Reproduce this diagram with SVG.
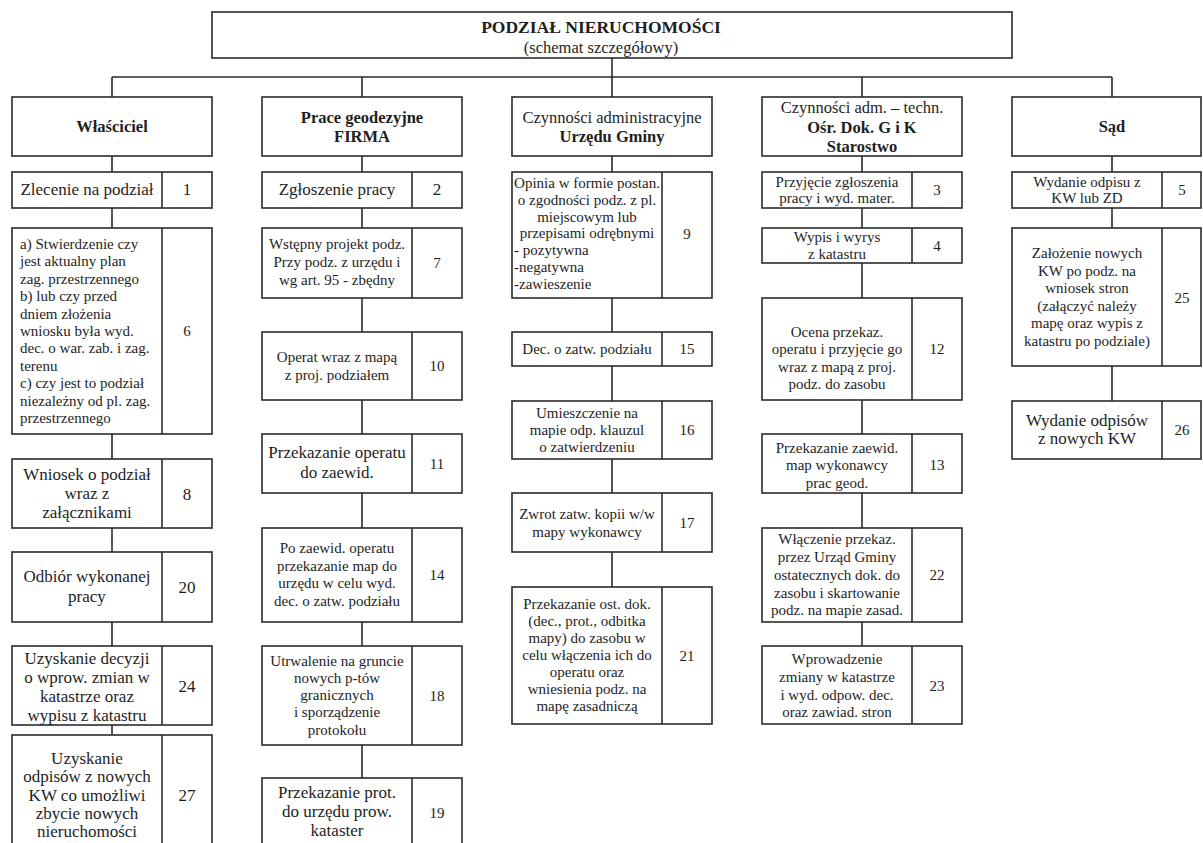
<svg xmlns="http://www.w3.org/2000/svg" width="1203" height="843" viewBox="0 0 1203 843">
<style>
.bg{fill:#ffffff}
.box{fill:#ffffff;stroke:#2b2b2b;stroke-width:1.6}
.div{stroke:#2b2b2b;stroke-width:1.6}
.conn{stroke:#2b2b2b;stroke-width:1.6;fill:none}
text{font-family:"Liberation Serif","Times New Roman",serif;fill:#1e1e1e;text-anchor:middle;font-size:15px}
.b{font-weight:bold;font-size:16.5px}
.h{font-size:16.5px}
.lg{font-size:17px}
.l{text-anchor:start}
.ttl{font-weight:bold;font-size:17.5px}
.sub{font-size:16.5px}
</style>
<rect class="bg" x="0" y="0" width="1203" height="843"/>

<g id="connectors">
<path class="conn" d="M612 58 V77 M112 77 H1112 M112 77 V97 M362 77 V97 M612 77 V97 M862 77 V97 M1112 77 V97"/>
<path class="conn" d="M112 156 V172 M112 208 V228 M112 434 V459 M112 528 V552 M112 622 V646 M112 725 V735"/>
<path class="conn" d="M362 156 V172 M362 208 V228 M362 298 V332 M362 400 V434 M362 493 V528 M362 622 V646 M362 745 V778"/>
<path class="conn" d="M612 156 V172 M612 298 V332 M612 366 V401 M612 459 V493 M612 552 V587"/>
<path class="conn" d="M862 156 V172 M862 208 V228 M862 263 V298 M862 400 V434 M862 493 V528 M862 622 V646"/>
<path class="conn" d="M1112 156 V172 M1112 208 V228 M1112 366 V401"/>
</g>

<g id="title">
<rect class="box" x="212" y="12" width="800" height="46"/>
<text class="ttl" x="601" y="33">PODZIAŁ NIERUCHOMOŚCI</text>
<text class="sub" x="601" y="53">(schemat szczegółowy)</text>
</g>

<!-- Column 1 -->
<g id="h-wlasciciel">
<rect class="box" x="12" y="97" width="200" height="59"/>
<text class="b" x="112" y="132">Właściciel</text>
</g>
<g id="n1">
<rect class="box" x="12" y="172" width="200" height="36"/>
<line class="div" x1="162" y1="172" x2="162" y2="208"/>
<text class="lg" x="87" y="195">Zlecenie na podział</text>
<text class="lg" x="187" y="195">1</text>
</g>
<g id="n6">
<rect class="box" x="12" y="228" width="200" height="206"/>
<line class="div" x1="162" y1="228" x2="162" y2="434"/>
<text class="l" x="20" y="249">a) Stwierdzenie czy</text>
<text class="l" x="20" y="266.4">jest aktualny plan</text>
<text class="l" x="20" y="283.8">zag. przestrzennego</text>
<text class="l" x="20" y="301.2">b) lub czy przed</text>
<text class="l" x="20" y="318.6">dniem złożenia</text>
<text class="l" x="20" y="336">wniosku była wyd.</text>
<text class="l" x="20" y="353.4">dec. o war. zab. i zag.</text>
<text class="l" x="20" y="370.8">terenu</text>
<text class="l" x="20" y="388.2">c) czy jest to podział</text>
<text class="l" x="20" y="405.6">niezależny od pl. zag.</text>
<text class="l" x="20" y="423">przestrzennego</text>
<text x="187" y="336">6</text>
</g>
<g id="n8">
<rect class="box" x="12" y="459" width="200" height="69"/>
<line class="div" x1="162" y1="459" x2="162" y2="528"/>
<text class="lg" x="87" y="480">Wniosek o podział</text>
<text class="lg" x="87" y="499">wraz z</text>
<text class="lg" x="87" y="518">załącznikami</text>
<text class="lg" x="187" y="500">8</text>
</g>
<g id="n20">
<rect class="box" x="12" y="552" width="200" height="70"/>
<line class="div" x1="162" y1="552" x2="162" y2="622"/>
<text class="lg" x="87" y="582">Odbiór wykonanej</text>
<text class="lg" x="87" y="602">pracy</text>
<text class="lg" x="187" y="593">20</text>
</g>
<g id="n24">
<rect class="box" x="12" y="646" width="200" height="79"/>
<line class="div" x1="162" y1="646" x2="162" y2="725"/>
<text class="lg" x="87" y="664">Uzyskanie decyzji</text>
<text class="lg" x="87" y="683">o wprow. zmian w</text>
<text class="lg" x="87" y="702">katastrze oraz</text>
<text class="lg" x="87" y="721">wypisu z katastru</text>
<text class="lg" x="187" y="692">24</text>
</g>
<g id="n27">
<rect class="box" x="12" y="735" width="200" height="120"/>
<line class="div" x1="162" y1="735" x2="162" y2="855"/>
<text class="lg" x="87" y="764">Uzyskanie</text>
<text class="lg" x="87" y="782">odpisów z nowych</text>
<text class="lg" x="87" y="801">KW co umożliwi</text>
<text class="lg" x="87" y="819">zbycie nowych</text>
<text class="lg" x="87" y="837">nieruchomości</text>
<text class="lg" x="187" y="801">27</text>
</g>

<!-- Column 2 -->
<g id="h-prace">
<rect class="box" x="262" y="97" width="200" height="59"/>
<text class="b" x="362" y="123">Prace geodezyjne</text>
<text class="b" x="362" y="142">FIRMA</text>
</g>
<g id="n2">
<rect class="box" x="262" y="172" width="200" height="36"/>
<line class="div" x1="412" y1="172" x2="412" y2="208"/>
<text class="lg" x="337" y="195">Zgłoszenie pracy</text>
<text class="lg" x="437" y="195">2</text>
</g>
<g id="n7">
<rect class="box" x="262" y="228" width="200" height="70"/>
<line class="div" x1="412" y1="228" x2="412" y2="298"/>
<text x="337" y="249">Wstępny projekt podz.</text>
<text x="337" y="267">Przy podz. z urzędu i</text>
<text x="337" y="285">wg art. 95 - zbędny</text>
<text x="437" y="268">7</text>
</g>
<g id="n10">
<rect class="box" x="262" y="332" width="200" height="68"/>
<line class="div" x1="412" y1="332" x2="412" y2="400"/>
<text x="337" y="362">Operat wraz z mapą</text>
<text x="337" y="380">z proj. podziałem</text>
<text x="437" y="371">10</text>
</g>
<g id="n11">
<rect class="box" x="262" y="434" width="200" height="59"/>
<line class="div" x1="412" y1="434" x2="412" y2="493"/>
<text class="lg" x="337" y="458">Przekazanie operatu</text>
<text class="lg" x="337" y="478">do zaewid.</text>
<text x="437" y="469">11</text>
</g>
<g id="n14">
<rect class="box" x="262" y="528" width="200" height="94"/>
<line class="div" x1="412" y1="528" x2="412" y2="622"/>
<text x="337" y="553">Po zaewid. operatu</text>
<text x="337" y="571">przekazanie map do</text>
<text x="337" y="588">urzędu w celu wyd.</text>
<text x="337" y="606">dec. o zatw. podziału</text>
<text x="437" y="580">14</text>
</g>
<g id="n18">
<rect class="box" x="262" y="646" width="200" height="99"/>
<line class="div" x1="412" y1="646" x2="412" y2="745"/>
<text x="337" y="666">Utrwalenie na gruncie</text>
<text x="337" y="683">nowych p-tów</text>
<text x="337" y="700">granicznych</text>
<text x="337" y="717">i sporządzenie</text>
<text x="337" y="735">protokołu</text>
<text x="437" y="701">18</text>
</g>
<g id="n19">
<rect class="box" x="262" y="778" width="200" height="80"/>
<line class="div" x1="412" y1="778" x2="412" y2="858"/>
<text class="lg" x="337" y="798">Przekazanie prot.</text>
<text class="lg" x="337" y="817">do urzędu prow.</text>
<text class="lg" x="337" y="836">kataster</text>
<text x="437" y="818">19</text>
</g>

<!-- Column 3 -->
<g id="h-urzad">
<rect class="box" x="512" y="97" width="200" height="59"/>
<text class="h" x="612" y="123">Czynności administracyjne</text>
<text class="b" x="612" y="142">Urzędu Gminy</text>
</g>
<g id="n9">
<rect class="box" x="512" y="172" width="200" height="126"/>
<line class="div" x1="662" y1="172" x2="662" y2="298"/>
<text x="587" y="188">Opinia w formie postan.</text>
<text x="587" y="205">o zgodności podz. z pl.</text>
<text x="587" y="222">miejscowym lub</text>
<text x="587" y="238">przepisami odrębnymi</text>
<text class="l" x="514" y="255">- pozytywna</text>
<text class="l" x="514" y="272">-negatywna</text>
<text class="l" x="514" y="289">-zawieszenie</text>
<text x="687" y="239">9</text>
</g>
<g id="n15">
<rect class="box" x="512" y="332" width="200" height="34"/>
<line class="div" x1="662" y1="332" x2="662" y2="366"/>
<text x="587" y="354">Dec. o zatw. podziału</text>
<text x="687" y="354">15</text>
</g>
<g id="n16">
<rect class="box" x="512" y="401" width="200" height="58"/>
<line class="div" x1="662" y1="401" x2="662" y2="459"/>
<text x="587" y="418">Umieszczenie na</text>
<text x="587" y="435">mapie odp. klauzul</text>
<text x="587" y="452">o zatwierdzeniu</text>
<text x="687" y="435">16</text>
</g>
<g id="n17">
<rect class="box" x="512" y="493" width="200" height="59"/>
<line class="div" x1="662" y1="493" x2="662" y2="552"/>
<text x="587" y="519">Zwrot zatw. kopii w/w</text>
<text x="587" y="537">mapy wykonawcy</text>
<text x="687" y="528">17</text>
</g>
<g id="n21">
<rect class="box" x="512" y="587" width="200" height="137"/>
<line class="div" x1="662" y1="587" x2="662" y2="724"/>
<text x="587" y="609">Przekazanie ost. dok.</text>
<text x="587" y="626">(dec., prot., odbitka</text>
<text x="587" y="643">mapy) do zasobu w</text>
<text x="587" y="660">celu włączenia ich do</text>
<text x="587" y="677">operatu oraz</text>
<text x="587" y="694">wniesienia podz. na</text>
<text x="587" y="711">mapę zasadniczą</text>
<text x="687" y="661">21</text>
</g>

<!-- Column 4 -->
<g id="h-starostwo">
<rect class="box" x="762" y="97" width="200" height="59"/>
<text class="h" x="862" y="113">Czynności adm. – techn.</text>
<text class="b" x="862" y="133">Ośr. Dok. G i K</text>
<text class="b" x="862" y="152">Starostwo</text>
</g>
<g id="n3">
<rect class="box" x="762" y="172" width="200" height="36"/>
<line class="div" x1="912" y1="172" x2="912" y2="208"/>
<text x="837" y="187">Przyjęcie zgłoszenia</text>
<text x="837" y="203">pracy i wyd. mater.</text>
<text x="937" y="195">3</text>
</g>
<g id="n4">
<rect class="box" x="762" y="228" width="200" height="35"/>
<line class="div" x1="912" y1="228" x2="912" y2="263"/>
<text x="837" y="242">Wypis i wyrys</text>
<text x="837" y="259">z katastru</text>
<text x="937" y="251">4</text>
</g>
<g id="n12">
<rect class="box" x="762" y="298" width="200" height="102"/>
<line class="div" x1="912" y1="298" x2="912" y2="400"/>
<text x="837" y="337">Ocena przekaz.</text>
<text x="837" y="354">operatu i przyjęcie go</text>
<text x="837" y="372">wraz z mapą z proj.</text>
<text x="837" y="389">podz. do zasobu</text>
<text x="937" y="354">12</text>
</g>
<g id="n13">
<rect class="box" x="762" y="434" width="200" height="59"/>
<line class="div" x1="912" y1="434" x2="912" y2="493"/>
<text x="837" y="453">Przekazanie zaewid.</text>
<text x="837" y="470">map wykonawcy</text>
<text x="837" y="488">prac geod.</text>
<text x="937" y="470">13</text>
</g>
<g id="n22">
<rect class="box" x="762" y="528" width="200" height="94"/>
<line class="div" x1="912" y1="528" x2="912" y2="622"/>
<text x="837" y="544">Włączenie przekaz.</text>
<text x="837" y="562">przez Urząd Gminy</text>
<text x="837" y="580">ostatecznych dok. do</text>
<text x="837" y="598">zasobu i skartowanie</text>
<text x="837" y="615">podz. na mapie zasad.</text>
<text x="937" y="580">22</text>
</g>
<g id="n23">
<rect class="box" x="762" y="646" width="200" height="78"/>
<line class="div" x1="912" y1="646" x2="912" y2="724"/>
<text x="837" y="664">Wprowadzenie</text>
<text x="837" y="682">zmiany w katastrze</text>
<text x="837" y="700">i wyd. odpow. dec.</text>
<text x="837" y="717">oraz zawiad. stron</text>
<text x="937" y="691">23</text>
</g>

<!-- Column 5 -->
<g id="h-sad">
<rect class="box" x="1012" y="97" width="189" height="59"/>
<text class="b" x="1112" y="132">Sąd</text>
</g>
<g id="n5">
<rect class="box" x="1012" y="172" width="189" height="36"/>
<line class="div" x1="1162" y1="172" x2="1162" y2="208"/>
<text x="1087" y="187">Wydanie odpisu z</text>
<text x="1087" y="203">KW lub ZD</text>
<text x="1182" y="195">5</text>
</g>
<g id="n25">
<rect class="box" x="1012" y="228" width="189" height="138"/>
<line class="div" x1="1162" y1="228" x2="1162" y2="366"/>
<text x="1087" y="258">Założenie nowych</text>
<text x="1087" y="276">KW po podz. na</text>
<text x="1087" y="293">wniosek stron</text>
<text x="1087" y="311">(załączyć należy</text>
<text x="1087" y="328">mapę oraz wypis z</text>
<text x="1087" y="346">katastru po podziale)</text>
<text x="1182" y="303">25</text>
</g>
<g id="n26">
<rect class="box" x="1012" y="401" width="189" height="58"/>
<line class="div" x1="1162" y1="401" x2="1162" y2="459"/>
<text class="lg" x="1087" y="426">Wydanie odpisów</text>
<text class="lg" x="1087" y="444">z nowych KW</text>
<text x="1182" y="435">26</text>
</g>
</svg>
